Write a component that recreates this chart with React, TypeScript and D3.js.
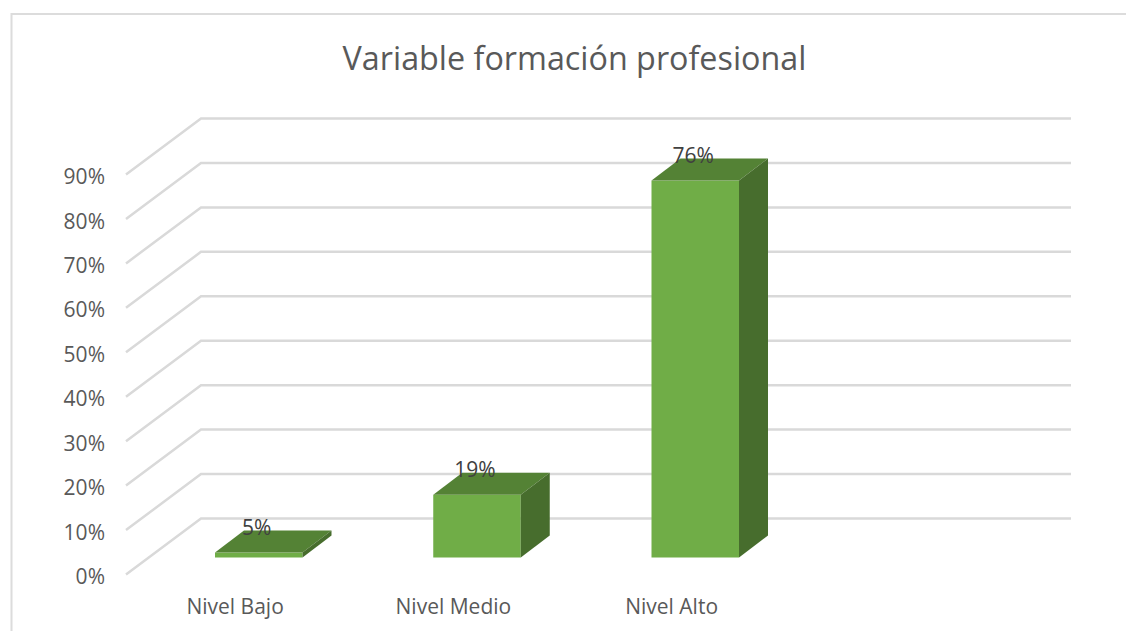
import * as d3 from 'd3';

const w = 1126;
const h = 631;

const categories = ['Nivel Bajo', 'Nivel Medio', 'Nivel Alto', ''];
const barLabels = ['5%', '19%', '76%'];
// height the bars are really drawn at, on the axis (does not follow the labels)
const barHeights = [1, 14, 84.7];
const yTicks = [0, 10, 20, 30, 40, 50, 60, 70, 80, 90];

const font = '"Open Sans", "Noto Sans", sans-serif';
const textColor = '#595959';
const gridColor = '#d9d9d9';

export default function App() {
  // y on the back wall
  const yScale = d3.scaleLinear().domain([0, 90]).range([518.5, 118.5]);
  const xScale = d3.scaleBand<string>().domain(categories).range([127, 1000]);

  const wallDx = 74;
  const wallDy = 56;
  const wallRight = 1071;

  // bars stand on the floor, part way between the front edge and the wall
  const barShift = 88;
  const barWidth = 87.5;
  const depthX = 29;
  const depthY = 22;
  const barBase = 557.5;
  const unit = yScale(0) - yScale(1);

  const line = d3.line();

  return (
    <svg
      width={w}
      height={h}
      style={{ position: 'absolute', left: 0, top: 0, background: '#fff' }}
    >
      <path d={`M11.5,${h} V14 H${w}`} fill='none' stroke='#dcdcdc' strokeWidth={2} />
      <text
        x={574.5}
        y={61}
        textAnchor='middle'
        dominantBaseline='middle'
        fontFamily={font}
        fontSize={32.3}
        fill={textColor}
      >
        Variable formación profesional
      </text>

      {yTicks.map((t) => {
        const y = yScale(t);
        const x0 = (xScale(categories[0]) as number) - 1;
        return (
          <g key={t}>
            <path
              d={
                line([
                  [x0, y + wallDy],
                  [x0 + wallDx + 1, y],
                  [wallRight, y],
                ]) as string
              }
              fill='none'
              stroke={gridColor}
              strokeWidth={2.5}
            />
            <text
              x={105}
              y={y + wallDy + 4}
              textAnchor='end'
              dominantBaseline='middle'
              fontFamily={font}
              fontSize={21}
              fill={textColor}
            >
              {t}%
            </text>
          </g>
        );
      })}

      {barHeights.map((v, i) => {
        const x = (xScale(categories[i]) as number) + barShift;
        const top = barBase - v * unit - 0.5;
        const right = x + barWidth;
        return (
          <g key={categories[i]}>
            <rect x={x} y={top} width={barWidth} height={barBase - top} fill='#70ad47' />
            <path
              d={
                (line([
                  [x, top],
                  [x + depthX, top - depthY],
                  [right + depthX, top - depthY],
                  [right, top],
                ]) as string) + 'Z'
              }
              fill='#548235'
            />
            <path
              d={
                (line([
                  [right, top],
                  [right + depthX, top - depthY],
                  [right + depthX, barBase - depthY],
                  [right, barBase],
                ]) as string) + 'Z'
              }
              fill='#476d2d'
            />
            <text
              x={x + barWidth / 2 - 2}
              y={top - 23}
              textAnchor='middle'
              dominantBaseline='middle'
              fontFamily={font}
              fontSize={21}
              fill='#404040'
            >
              {barLabels[i]}
            </text>
          </g>
        );
      })}

      {categories.slice(0, 3).map((c) => (
        <text
          key={c}
          x={(xScale(c) as number) + xScale.bandwidth() / 2 - 1}
          y={608}
          textAnchor='middle'
          dominantBaseline='middle'
          fontFamily={font}
          fontSize={21}
          fill={textColor}
        >
          {c}
        </text>
      ))}
    </svg>
  );
}
